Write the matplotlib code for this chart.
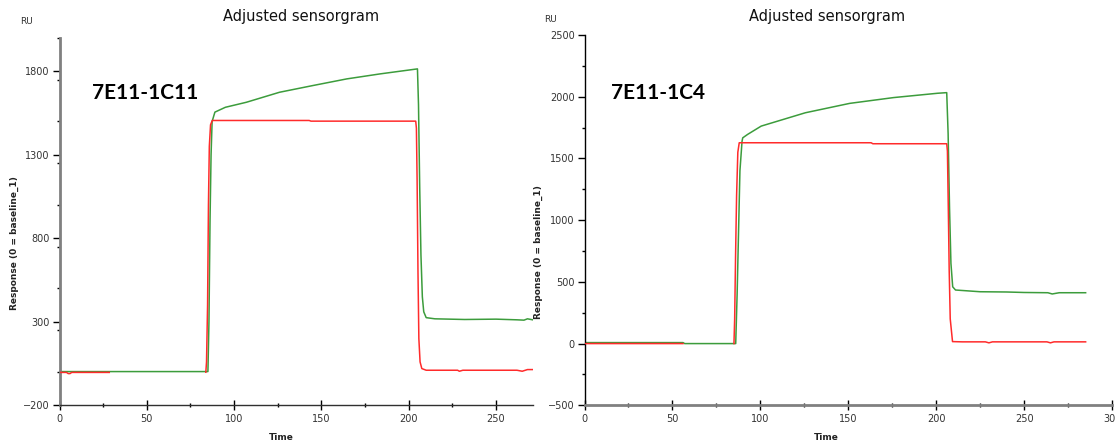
import numpy as np
import matplotlib
matplotlib.use("Agg")
import matplotlib.pyplot as plt
from matplotlib.ticker import MultipleLocator

# ---- data (time s, response RU) ----
# 7E11-1C11
c11_red_t = [0, 4, 5, 6, 7, 28.5, np.nan, 83.8, 84.2, 84.8, 85.3, 85.8, 86.5, 87.5, 100, 143, 144, 204, 204.4,
             204.8, 205.3, 205.8, 206.5, 207.5, 210, 228, 229, 231, 262, 265, 268, 271]
c11_red_v = [-3, -3, -10, -10, -3, -3, np.nan, -2, 60, 400, 1000, 1350, 1480, 1506, 1506, 1506, 1502, 1502, 1460,
             1150, 600, 200, 60, 20, 10, 10, 4, 10, 10, 4, 14, 14]
c11_grn_t = [0, 28.5, 85, 85.6, 86.2, 86.8, 87.4, 89, 95, 107, 126, 145, 164.5, 183.6, 200, 205, 205.6, 206.3,
             207, 207.8, 208.6, 210, 215, 232, 250, 262, 266, 268, 271]
c11_grn_v = [2, 2, 2, 300, 900, 1300, 1500, 1556, 1585, 1615, 1675, 1715, 1755, 1785, 1808, 1815, 1600, 1100,
             700, 450, 360, 325, 318, 314, 316, 312, 310, 318, 312]

# 7E11-1C4
c4_red_t = [0, 56, np.nan, 85, 85.4, 85.9, 86.5, 87.2, 88, 100, 163, 164, 206, 206.4, 206.9, 207.4, 208, 209.3,
            215, 228, 230, 232, 263, 265, 267, 285]
c4_red_v = [0, 0, np.nan, 0, 200, 700, 1200, 1550, 1627, 1627, 1627, 1619, 1619, 1560, 1100, 600, 200, 16,
            14, 14, 6, 14, 14, 6, 14, 14]
c4_grn_t = [0, 56, 57, 86, 86.8, 87.6, 88.4, 89.6, 90, 92.8, 100.5, 125.6, 150.8, 175.8, 200.8, 206, 206.8,
            207.6, 208.4, 209.4, 211, 225, 240, 250, 263.5, 266, 270, 285]
c4_grn_v = [8, 8, 0, 0, 400, 900, 1400, 1640, 1667, 1695, 1762, 1870, 1946, 1993, 2028, 2033, 1700, 1100,
            650, 460, 434, 420, 418, 414, 412, 402, 412, 412]

panels = [
    dict(red=(c11_red_t, c11_red_v), grn=(c11_grn_t, c11_grn_v), xlim=(0, 271), ylim=(-200, 2000),
         yticks=[-200, 300, 800, 1300, 1800], ymin=250, label="7E11-1C11",
         rect=[59.5, 38, 532.7, 405.3], ru=(20, 22), title_x=301, time_x=281, ylab=(14, 243), lab_xy=(92, 93),
         yspine=("#808080", 2.0), xspine=("#303030", 1.0)),
    dict(red=(c4_red_t, c4_red_v), grn=(c4_grn_t, c4_grn_v), xlim=(0, 300), ylim=(-500, 2500),
         yticks=[-500, 0, 500, 1000, 1500, 2000, 2500], ymin=250, label="7E11-1C4",
         rect=[584.5, 35, 1112, 405.3], ru=(544, 19), title_x=827, time_x=826, ylab=(538, 252), lab_xy=(611, 93),
         yspine=("#000000", 1.0), xspine=("#808080", 2.0)),
]

W, H = 1115, 445
fig = plt.figure(figsize=(W / 100, H / 100), dpi=100)

red = "#ff2b2b"
green = "#3c9c3c"

for p in panels:
    x0, y0, x1, y1 = p["rect"]
    ax = fig.add_axes([x0 / W, 1 - y1 / H, (x1 - x0) / W, (y1 - y0) / H])
    ax.plot(*p["grn"], color=green, lw=1.1, zorder=2)
    ax.plot(*p["red"], color=red, lw=1.1, zorder=3)
    ax.set_xlim(*p["xlim"])
    ax.set_ylim(*p["ylim"])
    ax.set_yticks(p["yticks"])
    ax.yaxis.set_minor_locator(MultipleLocator(p["ymin"]))
    ax.xaxis.set_major_locator(MultipleLocator(50))
    ax.xaxis.set_minor_locator(MultipleLocator(25))
    for s in ["top", "right"]:
        ax.spines[s].set_visible(False)
    ax.spines["left"].set_color(p["yspine"][0])
    ax.spines["left"].set_linewidth(p["yspine"][1])
    ax.spines["bottom"].set_color(p["xspine"][0])
    ax.spines["bottom"].set_linewidth(p["xspine"][1])
    ax.tick_params(axis="y", which="major", direction="out", length=5, width=1, color="black",
                   labelsize=7, labelcolor="#333333", pad=2)
    ax.tick_params(axis="y", which="minor", direction="out", length=2.5, width=1, color="black")
    ax.tick_params(axis="x", which="major", direction="inout", length=7, width=1, color="black",
                   labelsize=7, labelcolor="#333333", pad=3)
    ax.tick_params(axis="x", which="minor", direction="inout", length=3, width=1, color="black")
    ax.patch.set_visible(False)

    fig.text(p["ru"][0] / W, 1 - p["ru"][1] / H, "RU", fontsize=6.5, color="#333333", va="center")
    fig.text(p["title_x"] / W, 1 - 17 / H, "Adjusted sensorgram", fontsize=10.5, ha="center", va="center",
             color="#111111")
    fig.text(p["time_x"] / W, 1 - 437 / H, "Time", fontsize=6.5, fontweight="bold", ha="center",
             va="center", color="#222222")
    fig.text(p["ylab"][0] / W, 1 - p["ylab"][1] / H, "Response (0 = baseline_1)", fontsize=6.5,
             fontweight="bold", rotation=90, ha="center", va="center", color="#222222")
    fig.text(p["lab_xy"][0] / W, 1 - p["lab_xy"][1] / H, p["label"], fontsize=15, fontweight="bold",
             family=["Lato", "DejaVu Sans"], ha="left", va="center", color="black")

fig.savefig("out.png", dpi=100)
